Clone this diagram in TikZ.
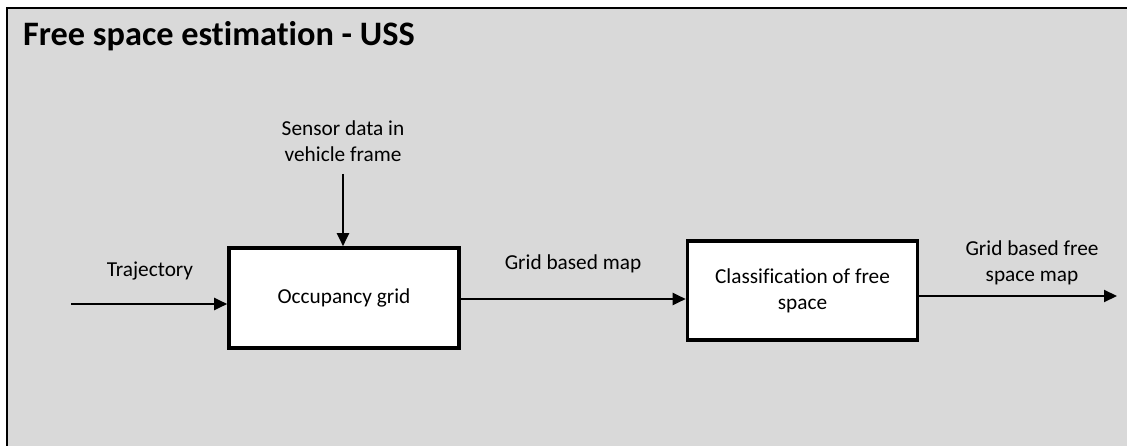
\documentclass[tikz,border=0pt]{standalone}
\usepackage{fontspec}
\setmainfont{Carlito}[Ligatures=CommonOff]
\usetikzlibrary{arrows.meta}
\definecolor{panelgray}{HTML}{D9D9D9}
\begin{document}
\begin{tikzpicture}[x=1pt,y=-1pt,
  blockbox/.style={draw=black,line width=3.6pt,fill=white,minimum width=230pt,minimum height=100pt,inner sep=0pt,
    font=\fontsize{21.3}{26}\selectfont,align=center},
  lbl/.style={inner sep=0pt,font=\fontsize{21.3}{26}\selectfont,align=center},
  flow/.style={line width=2pt,-{Triangle[length=13pt,width=12pt]}}]
\useasboundingbox (0,0) rectangle (1127,446);
\fill[white] (0,0) rectangle (1127,446);
\draw[line width=2.5pt,fill=panelgray] (7,8) rectangle (1140,460);
\node[inner sep=0pt,anchor=west,font=\fontsize{34.3}{40}\selectfont\bfseries] (title) at (23,36) {Free space estimation - USS};
\node[blockbox] (occ) at (344,298) {Occupancy grid};
\node[blockbox,minimum height=99pt] (cls) at (802.5,290.5) {Classification of free\\space};
\node[lbl] (sensor) at (343,141) {Sensor data in\\vehicle frame};
\node[lbl] (traj) at (150,271) {Trajectory};
\node[lbl] (gbm) at (573,264) {Grid based map};
\node[lbl] (gbf) at (1032,263) {Grid based free\\space map};
\coordinate (sensorend) at (343,174);
\coordinate (trajstart) at (71,304);
\coordinate (outend) at (1117,296);
\draw[flow] (sensorend) -- (sensorend |- occ.north);
\draw[flow] (trajstart) -- (trajstart -| occ.west);
\draw[flow] ([yshift=-1pt]occ.east) -- ([yshift=-1pt]occ.east -| cls.west);
\draw[flow] (cls.east |- outend) -- (outend);
\end{tikzpicture}
\end{document}
